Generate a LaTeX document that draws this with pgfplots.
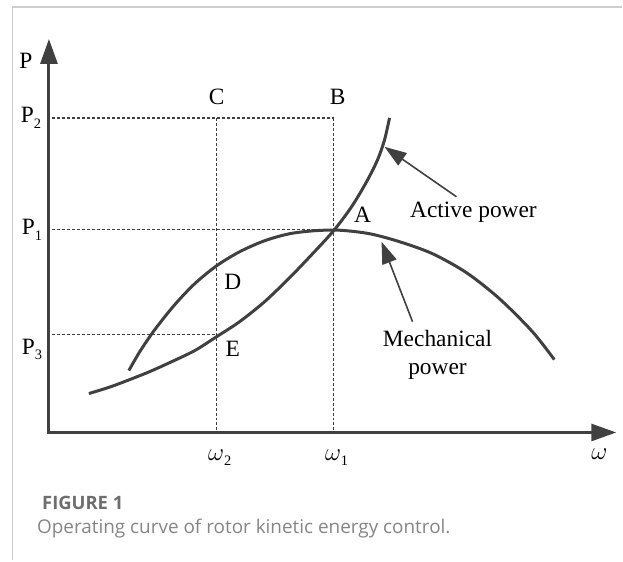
\documentclass[border=0pt]{standalone}
\usepackage{fontspec}
\setmainfont{Liberation Serif}
\newfontfamily\capfont{Open Sans}
\usepackage{pgfplots}
\pgfplotsset{compat=1.18}
\usetikzlibrary{arrows.meta}
\definecolor{dk}{HTML}{404040}
\definecolor{frm}{HTML}{CFCFCF}
\definecolor{capA}{HTML}{6E6E6E}
\definecolor{capB}{HTML}{858585}
\newcommand{\labf}{\fontsize{23.5}{28}\selectfont}
\newcommand{\sub}[1]{\raisebox{-5.5bp}{\fontsize{14.5}{15}\selectfont #1}}
\tikzset{lab/.style={font=\labf}}
\begin{document}
\begin{tikzpicture}
\begin{axis}[hide axis, scale only axis, width=623bp, height=561bp,
  xmin=0, xmax=623, ymin=0, ymax=561, y dir=reverse, clip=false]
% frame
\addplot[frm, line width=1.5bp] coordinates {(12.5,561) (12.5,7) (623,7)};
% dashed guide lines
\addplot[dk, line width=1.4bp, dash pattern=on 3bp off 2bp] coordinates {(52,118) (334,118)};
\addplot[dk, line width=1.4bp, dash pattern=on 3bp off 2bp] coordinates {(52,230) (334,230)};
\addplot[dk, line width=1.4bp, dash pattern=on 3bp off 2bp] coordinates {(52,335) (217,335)};
\addplot[dk, line width=1.4bp, dash pattern=on 3bp off 2bp] coordinates {(217,118) (217,432)};
\addplot[dk, line width=1.4bp, dash pattern=on 3bp off 2bp] coordinates {(334,118) (334,432)};
% axes
\addplot[dk, line width=3bp, -{Triangle[length=25bp,width=17bp]}] coordinates {(49,434.5) (49,39)};
\addplot[dk, line width=3bp, -{Triangle[length=25bp,width=17bp]}] coordinates {(47.5,433) (617,433)};
% active power
\addplot[dk, line width=3bp, smooth, tension=0.5] coordinates {
(89,394) (110,387.5) (130,380) (150,372) (170,363) (195,351) (217,337) (240,322)
(265,302) (290,278) (313,254) (334,231) (352,207) (367,182) (378,160) (385,140) (390,118)};
% mechanical power
\addplot[dk, line width=3bp, smooth, tension=0.5] coordinates {
(129,371) (140,352) (155,330) (175,305) (195,284) (217,266) (240,252) (265,241)
(290,234) (315,231) (340,230.5) (370,234) (400,242) (433,254) (467,273) (500,299)
(533,332) (555,360)};
% annotation arrows
\addplot[dk, line width=1.6bp, -{Triangle[length=22bp,width=15bp]}] coordinates {(457,197) (385,147)};
\addplot[dk, line width=1.6bp, -{Triangle[length=22bp,width=15bp]}] coordinates {(413,322) (382,242)};
% labels
\node[lab] at (26,61) {P};
\node[lab] at (31,118) {P\sub{2}};
\node[lab] at (32,230) {P\sub{1}};
\node[lab] at (32,350) {P\sub{3}};
\node[lab] at (217,97) {C};
\node[lab] at (338,97) {B};
\node[lab] at (363,215) {A};
\node[lab] at (233,282) {D};
\node[lab] at (233,349) {E};
\node[lab] at (474,213) {Active power};
\node[lab, align=center] at (438,355) {Mechanical\\power};
\node[lab] at (220,458) {$\omega$\sub{2}};
\node[lab] at (337,458) {$\omega$\sub{1}};
\node[lab] at (600,455) {$\omega$};
% caption
\node[anchor=west, inner sep=0pt, text=capA] at (42,504) {\capfont\bfseries\fontsize{18.5}{22}\selectfont FIGURE 1};
\node[anchor=west, inner sep=0pt, text=capB] at (37,529) {\capfont\fontsize{19}{22}\selectfont Operating curve of rotor kinetic energy control.};
\path (0,0) rectangle (623,561);
\end{axis}
\end{tikzpicture}
\end{document}
